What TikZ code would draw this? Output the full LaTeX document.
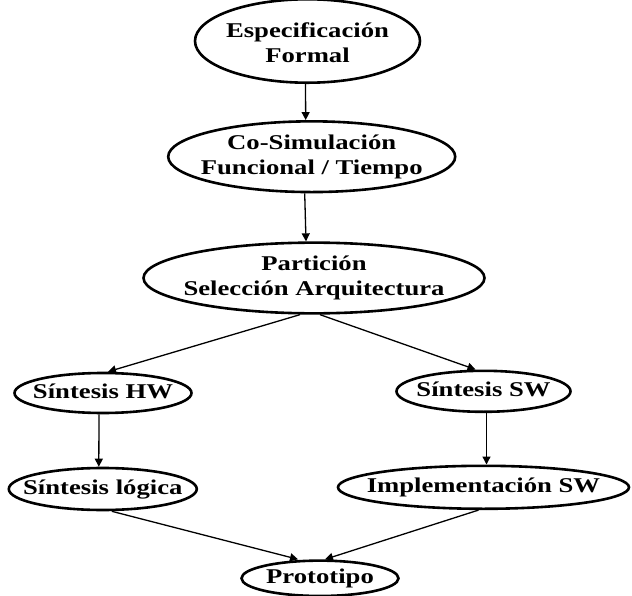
\documentclass[tikz,border=0pt]{standalone}
\usepackage{fontspec}
\setmainfont{Liberation Serif}[FakeStretch=1.27]
\usetikzlibrary{shapes.geometric,arrows.meta}
\newcommand{\ztxt}[1]{\makebox[0pt]{\begin{tabular}{@{}c@{}}#1\end{tabular}}}
\begin{document}
\begin{tikzpicture}[x=1pt,y=-1pt,
  ell/.style={ellipse,draw,line width=2.6pt,inner sep=0pt,
    font=\fontsize{21}{25}\selectfont\bfseries},
  arr/.style={-{Triangle[length=8pt,width=8pt]},line width=1.3pt}]
\useasboundingbox (0,0) rectangle (632,596);
\node[ell,minimum width=225pt,minimum height=62pt] (e1) at (307.5,41) {\raisebox{0pt}[\dimexpr\height+9pt\relax][\depth]{\ztxt{Especificación\\Formal}}};
\node[ell,minimum width=287pt,minimum height=67pt] (e2) at (311.7,156.7) {\ztxt{Co-Simulación\\Funcional / Tiempo}};
\node[ell,minimum width=341pt,minimum height=67pt] (e3) at (314,278) {\ztxt{Partición\\Selección Arquitectura}};
\node[ell,minimum width=177pt,minimum height=40pt] (e4) at (103,393) {\ztxt{Síntesis HW}};
\node[ell,minimum width=174pt,minimum height=41pt] (e5) at (483.5,391.3) {\ztxt{Síntesis SW}};
\node[ell,minimum width=188pt,minimum height=42pt] (e6) at (102.8,489) {\ztxt{Síntesis lógica}};
\node[ell,minimum width=291pt,minimum height=43pt] (e7) at (483.5,487.3) {\ztxt{Implementación SW}};
\node[ell,minimum width=157pt,minimum height=31pt] (e8) at (320,578.3) {\ztxt{Prototipo}};
\draw[arr] ([xshift=-2pt]e1.south) -- ([xshift=-6pt]e2.north);
\draw[arr] ([xshift=-7pt]e2.south) -- ([xshift=-8pt]e3.north);
\draw[arr] ([xshift=-14pt]e3.south) -- ([xshift=5pt]e4.north);
\draw[arr] ([xshift=6pt]e3.south) -- ([xshift=-8pt]e5.north);
\draw[arr] ([xshift=-4pt]e4.south) -- ([xshift=-4pt]e6.north);
\draw[arr] ([xshift=3pt]e5.south) -- ([xshift=3pt]e7.north);
\draw[arr] ([xshift=9pt]e6.south) -- ([xshift=-22pt]e8.north);
\draw[arr] ([xshift=-5pt]e7.south) -- ([xshift=5pt]e8.north);
\end{tikzpicture}
\end{document}
